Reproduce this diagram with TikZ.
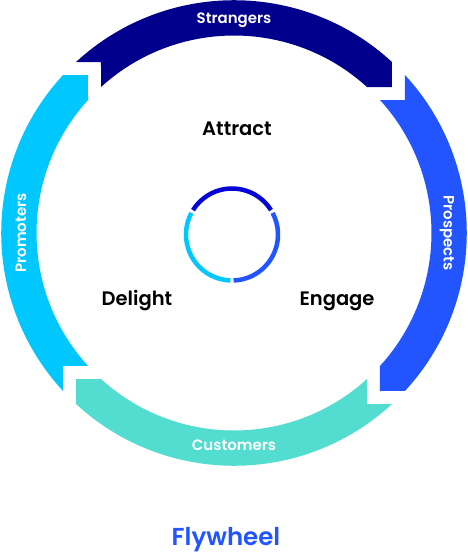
\documentclass[tikz,border=0pt]{standalone}
\usepackage{fontspec}
\setmainfont{Poppins}[FontFace={sb}{n}{Poppins SemiBold}]
\usepackage{tikz}
\usepackage{xcolor}
\definecolor{StrangerNavy}{RGB}{0,0,140}
\definecolor{ProspectBlue}{RGB}{34,85,255}
\definecolor{CustomerTeal}{RGB}{82,221,208}
\definecolor{PromoterCyan}{RGB}{0,200,255}
\definecolor{RingBlue}{RGB}{5,5,215}
\tikzset{
	seglabel/.style={text=white, font=\fontsize{15}{17}\selectfont\fontseries{sb}\selectfont},
	stagelabel/.style={text=black, font=\fontsize{19.5}{22}\selectfont\fontseries{sb}\selectfont},
	titlelabel/.style={text=ProspectBlue, font=\fontsize{24.5}{28}\selectfont\fontseries{sb}\selectfont},
	ringarc/.style={line width=4.5pt},
}
% one band of the wheel, drawn at the top and turned by #2
\newcommand{\flyband}[2]{%
	\begin{scope}[rotate=#2]
		\fill[#1] (132.73:232.8pt) arc[start angle=132.73, end angle=47.27, radius=232.8pt]
		-- (158pt,146pt) -- (47.67:197.5pt)
		arc[start angle=47.67, end angle=132.33, radius=197.5pt]
		-- (-133pt,171pt) -- cycle;
	\end{scope}}

\begin{document}
\begin{tikzpicture}[x=1pt, y=1pt]
			
			\useasboundingbox (-234,-322) rectangle (234,233);
			
			% Outer wheel bands
			\flyband{StrangerNavy}{0}
			\flyband{ProspectBlue}{-90}
			\flyband{CustomerTeal}{-180}
			\flyband{PromoterCyan}{-270}
			
			% Band labels
			\node[seglabel] (strangers) at (90:213pt) {Strangers};
			\node[seglabel, rotate=-90] (prospects) at (0:213pt) {Prospects};
			\node[seglabel] (customers) at (-90:212pt) {Customers};
			\node[seglabel, rotate=90] (promoters) at (180:213pt) {Promoters};
			
			% Small ring in the middle
			\begin{scope}[shift={(-2,-1.5)}]
				\draw[ringarc, RingBlue] (32:46pt) arc[start angle=32, end angle=148, radius=46pt];
				\draw[ringarc, ProspectBlue] (-88:46pt) arc[start angle=-88, end angle=28, radius=46pt];
				\draw[ringarc, PromoterCyan] (152:46pt) arc[start angle=152, end angle=268, radius=46pt];
			\end{scope}
			
			% Stage names
			\node[stagelabel] (attract) at (3,104) {Attract};
			\node[stagelabel] (delight) at (-97,-68) {Delight};
			\node[stagelabel] (engage) at (103,-68) {Engage};
			
			% Title below
			\node[titlelabel] (flywheel) at (-8,-307) {Flywheel};
			
		\end{tikzpicture}
\end{document}
